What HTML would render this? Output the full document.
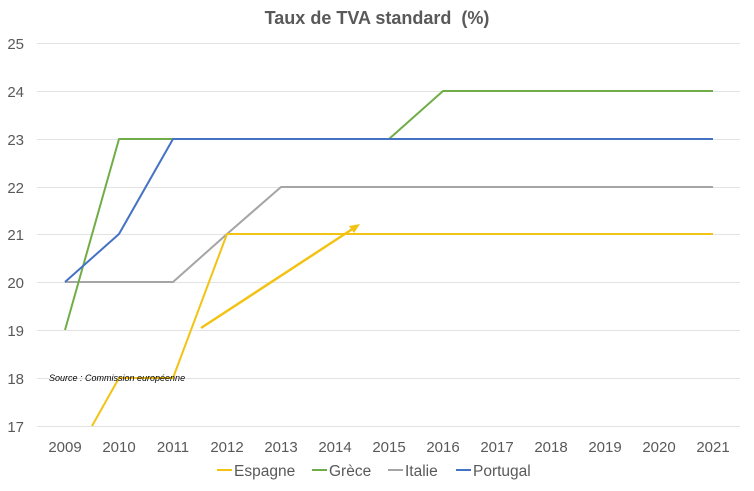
<!DOCTYPE html>
<html><head><meta charset="utf-8"><style>
html,body{margin:0;padding:0;background:#fff;}
svg{display:block;font-family:"Liberation Sans",Arial,sans-serif;}
</style></head><body>
<svg width="754" height="491" viewBox="0 0 754 491" xmlns="http://www.w3.org/2000/svg">
<rect width="754" height="491" fill="#fff"/>
<text x="377" y="24" text-anchor="middle" font-size="18" font-weight="bold" fill="#595959">Taux de TVA standard &#160;(%)</text>
<g stroke="#e3e3e3" stroke-width="1">
<line x1="37" x2="740" y1="43.5" y2="43.5"/>
<line x1="37" x2="740" y1="91.5" y2="91.5"/>
<line x1="37" x2="740" y1="139.5" y2="139.5"/>
<line x1="37" x2="740" y1="187.5" y2="187.5"/>
<line x1="37" x2="740" y1="234.5" y2="234.5"/>
<line x1="37" x2="740" y1="282.5" y2="282.5"/>
<line x1="37" x2="740" y1="330.5" y2="330.5"/>
<line x1="37" x2="740" y1="378.5" y2="378.5"/>
<line x1="37" x2="740" y1="426.5" y2="426.5"/>
</g>
<g font-size="15" fill="#595959" text-anchor="end">
<text x="24" y="49">25</text><text x="24" y="97">24</text><text x="24" y="145">23</text>
<text x="24" y="193">22</text><text x="24" y="240">21</text><text x="24" y="288">20</text>
<text x="24" y="336">19</text><text x="24" y="384">18</text><text x="24" y="432">17</text>
</g>
<g font-size="15" fill="#595959" text-anchor="middle">
<text x="65" y="452">2009</text><text x="119" y="452">2010</text><text x="173" y="452">2011</text>
<text x="227" y="452">2012</text><text x="281" y="452">2013</text><text x="335" y="452">2014</text>
<text x="389" y="452">2015</text><text x="443" y="452">2016</text><text x="497" y="452">2017</text>
<text x="551" y="452">2018</text><text x="605" y="452">2019</text><text x="659" y="452">2020</text>
<text x="713" y="452">2021</text>
</g>
<g fill="none" stroke-width="2" stroke-linejoin="round">
<polyline stroke="#a5a5a5" points="65,282 119,282 173,282 227,234 281,187 713,187"/>
<polyline stroke="#f2c314" points="92,426 119,378 173,378 227,234 713,234"/>
<polyline stroke="#70ad47" points="65,330 119,139 389,139 443,91 713,91"/>
<polyline stroke="#4472c4" points="65,282 119,234 173,139 713,139"/>
<line x1="201" y1="328" x2="354" y2="228" stroke="#f2c314" stroke-width="2.5"/>
</g>
<polygon points="360,224 349,226 354,233" fill="#f2c314"/>
<text x="49" y="381" font-size="9" font-style="italic" fill="#000">Source : Commission européenne</text>
<g font-size="15.5" fill="#595959">
<line x1="217" x2="232" y1="470" y2="470" stroke="#f2c314" stroke-width="2"/><text x="234" y="476">Espagne</text>
<line x1="312" x2="327" y1="470" y2="470" stroke="#70ad47" stroke-width="2"/><text x="329" y="476">Grèce</text>
<line x1="388" x2="403" y1="470" y2="470" stroke="#a5a5a5" stroke-width="2"/><text x="405" y="476">Italie</text>
<line x1="456" x2="471" y1="470" y2="470" stroke="#4472c4" stroke-width="2"/><text x="473" y="476">Portugal</text>
</g>
</svg>
</body></html>
